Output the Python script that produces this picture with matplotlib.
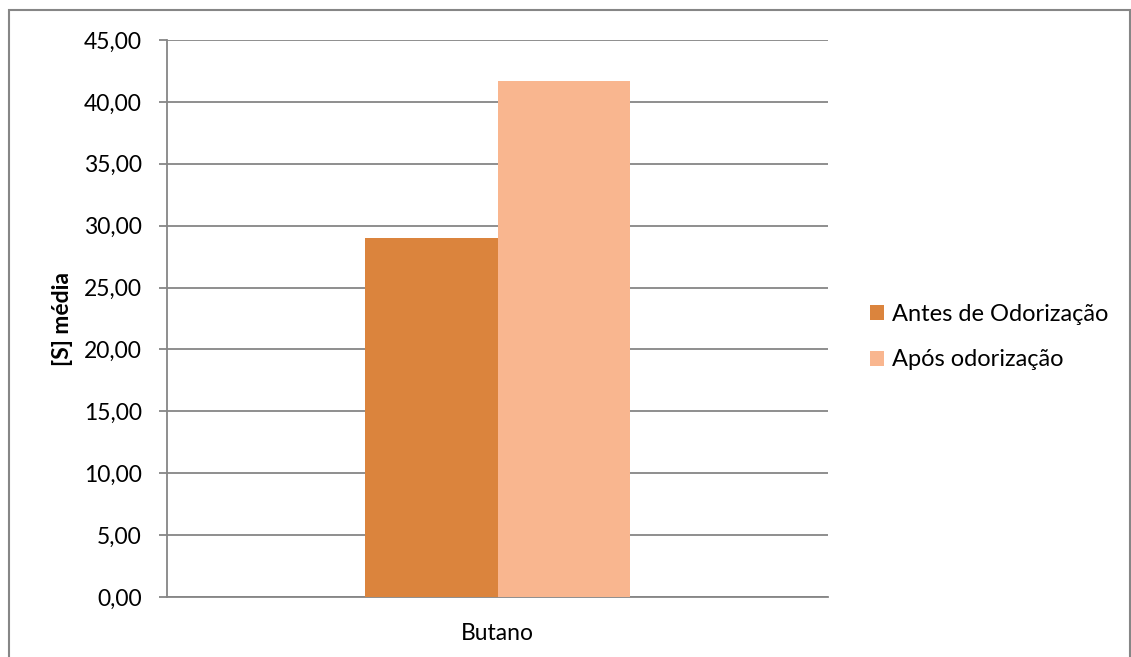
import numpy as np
import matplotlib.pyplot as plt
from matplotlib.patches import Rectangle

categories = ["Butano"]
series = ["Antes de Odorização", "Após odorização"]
antes = [28.98]
apos = [41.68]
colors = ["#DB843D", "#F9B68F"]
yticks = [0, 5, 10, 15, 20, 25, 30, 35, 40, 45]


def main():
    plt.rcParams['font.family'] = ['Lato', 'DejaVu Sans']
    W, H = 1131, 657
    fig = plt.figure(figsize=(W / 100, H / 100), dpi=100)
    ax = fig.add_axes([167 / W, 1 - 597 / H, (828 - 167) / W, (597 - 40) / H])

    # outer chart border (bottom edge cut off in the original)
    fig.patches.append(Rectangle((8.5 / W, -0.05), (1129.5 - 8.5) / W, 1 - 9.5 / H + 0.05,
                                 transform=fig.transFigure, fill=False,
                                 edgecolor="#868686", linewidth=1.5))

    x = np.arange(len(categories))
    w = 0.2
    ax.bar(x - w / 2, antes, w, color=colors[0], label=series[0], zorder=3)
    ax.bar(x + w / 2, apos, w, color=colors[1], label=series[1], zorder=3)

    ax.set_xlim(-0.5, 0.5)
    ax.set_ylim(0, 45)
    ax.set_yticks(yticks)
    ax.set_yticklabels([f"{v:.2f}".replace(".", ",") for v in yticks], fontsize=16.5)
    ax.set_xticks(x)
    ax.set_xticklabels(categories, fontsize=16.5)
    ax.tick_params(axis="x", length=0, pad=19)
    ax.tick_params(axis="y", length=6, width=1.3, color="#868686", pad=12)
    ax.yaxis.grid(True, color="#868686", linewidth=1.3, zorder=0)
    for s in ["top", "right"]:
        ax.spines[s].set_visible(False)
    for s in ["left", "bottom"]:
        ax.spines[s].set_color("#868686")
        ax.spines[s].set_linewidth(1.3)

    ax.set_ylabel("[S] média", fontsize=16.5, fontweight="bold", labelpad=8)

    fig.legend(loc="center left", bbox_to_anchor=(870 / W, 1 - 337 / H),
               frameon=False, fontsize=17, handlelength=0.6, handleheight=0.6,
               handletextpad=0.35, labelspacing=1.05, borderpad=0, borderaxespad=0)

    fig.savefig("out.png", dpi=100)


if __name__ == "__main__":
    main()
